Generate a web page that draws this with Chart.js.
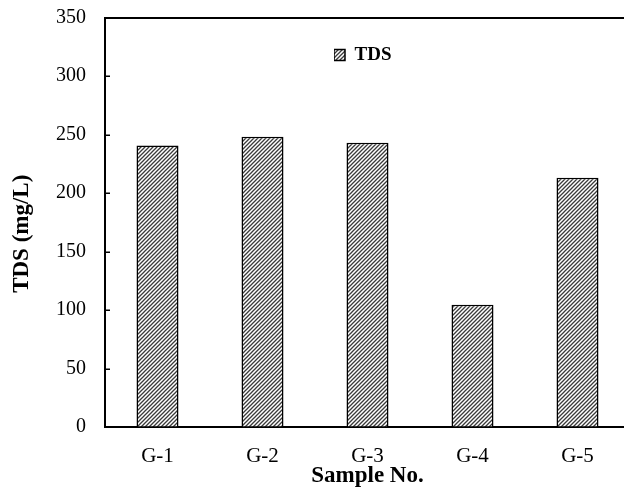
<!DOCTYPE html>
<html><head><meta charset="utf-8">
<script src="https://cdn.jsdelivr.net/npm/chart.js@4/dist/chart.umd.min.js"></script>
<style>html,body{margin:0;padding:0;background:#fff;overflow:hidden;} #wrap{width:640px;height:490px;}</style>
</head><body><div id="wrap"><canvas id="c" width="640" height="490"></canvas></div>
<script>
const categories = ['G-1', 'G-2', 'G-3', 'G-4', 'G-5'];
const tdsValues = [240.5, 248, 243, 104.5, 213];
const yTicks = [0, 50, 100, 150, 200, 250, 300, 350];
const seriesName = 'TDS';
const xTitle = 'Sample No.';
const yTitle = 'TDS (mg/L)';

const FAMILY = '"Liberation Serif", "Times New Roman", serif';
const canvas = document.getElementById('c');
const ctx = canvas.getContext('2d');

function makeHatch() {
  const s = 4;
  const c = document.createElement('canvas');
  c.width = s; c.height = s;
  const g = c.getContext('2d');
  g.fillStyle = '#fff'; g.fillRect(0, 0, s, s);
  g.strokeStyle = '#3a3a3a'; g.lineWidth = 1.3;
  g.beginPath();
  g.moveTo(-1, s + 1); g.lineTo(s + 1, -1);
  g.moveTo(-1, 1); g.lineTo(1, -1);
  g.moveTo(s - 1, s + 1); g.lineTo(s + 1, s - 1);
  g.stroke();
  return ctx.createPattern(c, 'repeat');
}
const hatch = makeHatch();

const innerTicks = {
  id: 'innerTicks',
  afterDatasetsDraw(chart) {
    const {ctx, chartArea: a, scales: {y}} = chart;
    ctx.save();
    ctx.strokeStyle = '#000'; ctx.lineWidth = 1.5;
    y.ticks.forEach(t => {
      const py = Math.round(y.getPixelForValue(t.value)) + 0.25;
      ctx.beginPath(); ctx.moveTo(a.left, py); ctx.lineTo(a.left + 5, py); ctx.stroke();
    });
    ctx.restore();
  }
};

const legendMover = {
  id: 'legendMover',
  afterLayout(chart) {
    const L = chart.legend;
    L.left = 334; L.right = 460; L.width = L.right - L.left;
    L.top = 45.5; L.bottom = 80; L.height = L.bottom - L.top;
  }
};

new Chart(ctx, {
  type: 'bar',
  data: {
    labels: categories,
    datasets: [{
      label: seriesName,
      data: tdsValues,
      backgroundColor: hatch,
      borderColor: '#000',
      borderWidth: 1.5,
      barPercentage: 0.4,
      categoryPercentage: 1.0,
      xAxisID: 'x',
      yAxisID: 'y'
    }]
  },
  options: {
    responsive: false,
    animation: false,
    layout: { padding: { top: 17.5, left: 0, right: 10, bottom: 0 } },
    plugins: {
      tooltip: { enabled: false },
      legend: {
        position: 'chartArea', align: 'start',
        labels: { boxWidth: 11, boxHeight: 11, padding: 0, color: '#000',
          font: { family: FAMILY, size: 19, weight: 'bold' } }
      }
    },
    scales: {
      x: {
        type: 'category', position: 'bottom', offset: true,
        grid: { drawOnChartArea: false, drawTicks: false },
        border: { display: true, color: '#000', width: 2 },
        ticks: { color: '#000', font: { family: FAMILY, size: 21 }, padding: 17 },
        title: { display: true, text: xTitle, color: '#000',
          font: { family: FAMILY, size: 23, weight: 'bold' }, padding: { top: 0, bottom: 0 } },
        afterFit(s) { s.height = 63; }
      },
      x2: {
        type: 'category', position: 'top', offset: true,
        grid: { drawOnChartArea: false, drawTicks: false },
        border: { display: true, color: '#000', width: 2 },
        ticks: { display: false },
        afterFit(s) { s.height = 0; }
      },
      y: {
        min: 0, max: 350,
        afterBuildTicks(s) { s.ticks = yTicks.map(v => ({ value: v })); },
        grid: { drawOnChartArea: false, drawTicks: false },
        border: { display: true, color: '#000', width: 2 },
        ticks: { color: '#000', font: { family: FAMILY, size: 20 }, padding: 19 },
        title: { display: true, text: yTitle + '    ', color: '#000',
          font: { family: FAMILY, size: 23, weight: 'bold' }, padding: { top: 8, bottom: 0 } },
        afterFit(s) { s.width = 105; s.paddingTop = 0; s.paddingBottom = 0; }
      }
    }
  },
  plugins: [innerTicks, legendMover]
});
</script>
</body></html>
